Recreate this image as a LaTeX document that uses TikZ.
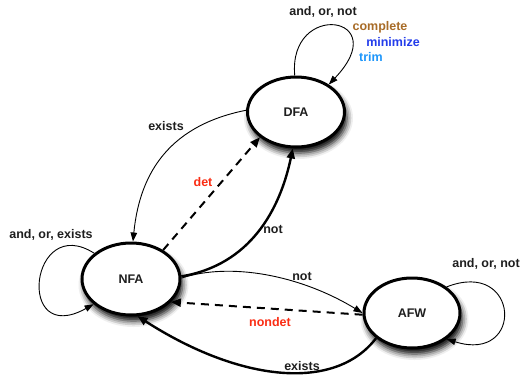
\documentclass[tikz,border=0pt]{standalone}
\usepackage{fontspec}
\setmainfont{Liberation Sans}
\usetikzlibrary{arrows.meta,shapes.geometric,shadows.blur}
\definecolor{cbrown}{RGB}{168,108,40}
\definecolor{cblue}{RGB}{35,60,235}
\definecolor{clblue}{RGB}{30,150,250}
\definecolor{cred}{RGB}{250,45,20}
\definecolor{ctext}{RGB}{30,30,30}
\begin{document}
\begin{tikzpicture}[x=1pt,y=-1pt,
  state/.style={ellipse, draw, line width=3pt, fill=white, minimum width=97pt,
    minimum height=70pt, inner sep=0pt, font=\fontsize{12.5}{14}\selectfont\bfseries,
    text=ctext,
    blur shadow={shadow xshift=2.5pt, shadow yshift=-6pt, shadow blur radius=6pt, shadow opacity=100}},
  lbl/.style={font=\fontsize{12.5}{14}\selectfont\bfseries, text=ctext, inner sep=0pt},
  thinedge/.style={line width=0.9pt, -{Triangle[length=9pt,width=6.5pt]}},
  thickedge/.style={line width=2.4pt, -{Triangle[length=10pt,width=8pt]}},
  dashedge/.style={line width=2pt, dash pattern=on 8pt off 6pt, -{Triangle[length=10pt,width=8pt]}},
]
\useasboundingbox (0,0) rectangle (522,375);

\node[state] (DFA) at (296,112) {DFA};
\node[state, minimum height=72pt, minimum width=98pt] (NFA) at (131,279) {NFA};
\node[state, minimum width=96pt] (AFW) at (412,313) {AFW};

% DFA self loop
\draw[thinedge] (DFA.92) .. controls (288,0) and (395,15) .. (DFA.40);
% DFA -> NFA exists
\draw[thinedge] (DFA.178) .. controls (172,125) and (140,170) .. (NFA.87);
% NFA -> DFA det
\draw[dashedge] (NFA.42) -- (DFA.215);
% NFA -> DFA not
\draw[thickedge] (NFA.3) .. controls (250,265) and (280,210) .. (DFA.265);
% NFA -> AFW not
\draw[thinedge] (NFA.1) .. controls (230,262) and (300,275) .. (AFW.180);
% AFW -> NFA nondet
\draw[dashedge] (AFW.182) -- (NFA.330);
% AFW -> NFA exists
\draw[thickedge] (AFW.215) .. controls (335,392) and (240,382) .. (NFA.280);
% NFA self loop
\draw[thinedge] (NFA.145) .. controls (30,212) and (15,348) .. (NFA.214);
% AFW self loop
\draw[thinedge] (AFW.37) .. controls (520,258) and (525,364) .. (AFW.323);

% labels
\node[lbl] (lDFA) at (323,12) {and, or, not};
\node[lbl, text=cbrown] (lcomplete) at (380,27) {complete};
\node[lbl, text=cblue] (lminimize) at (393,42) {minimize};
\node[lbl, text=clblue] (ltrim) at (371,57) {trim};
\node[lbl] (lexists1) at (166,126) {exists};
\node[lbl, text=cred] (ldet) at (203,182) {det};
\node[lbl] (lnot1) at (273,229) {not};
\node[lbl] (lnot2) at (302,276) {not};
\node[lbl, text=cred] (lnondet) at (270,322) {nondet};
\node[lbl] (lexists2) at (302,366) {exists};
\node[lbl] (lNFA) at (51,235) {and, or, exists};
\node[lbl] (lAFW) at (486,264) {and, or, not};
\end{tikzpicture}
\end{document}
